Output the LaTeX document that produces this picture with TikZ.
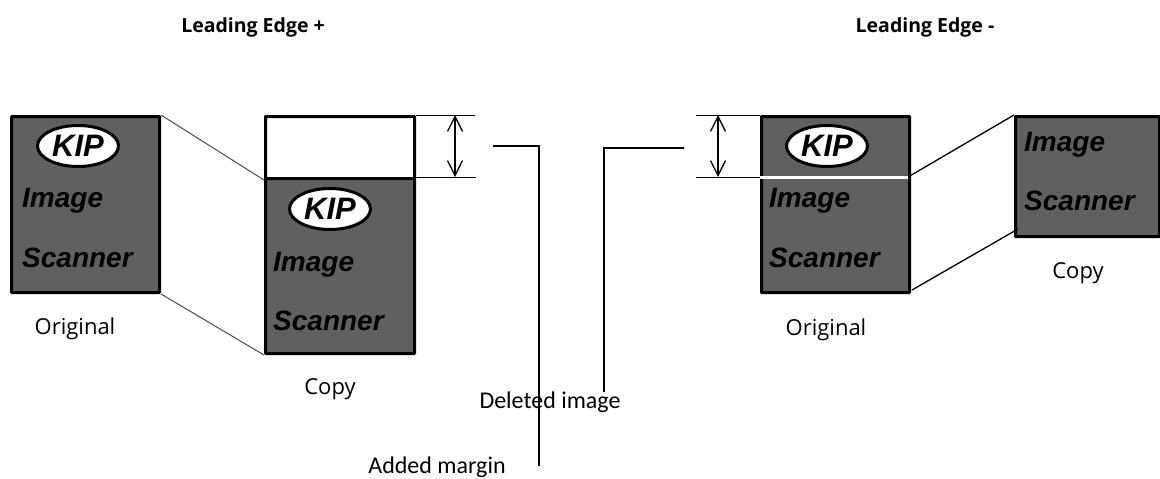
\documentclass[tikz,border=0pt]{standalone}
\usepackage{fontspec}
\setmainfont{Open Sans}
\newfontfamily\logofont{Liberation Sans}
\newfontfamily\notefont{Carlito}
\usetikzlibrary{shapes.geometric, arrows.meta}
\definecolor{sheet}{HTML}{606060}
\tikzstyle{page} = [rectangle, draw=black, line width=3pt, fill=sheet, inner sep=0pt, anchor=north west, rounded corners=0.5pt]
\tikzstyle{blank} = [page, fill=white]
\tikzstyle{logo} = [ellipse, draw=black, line width=3pt, fill=white, minimum width=81pt, minimum height=41pt, inner sep=0pt, font=\logofont\bfseries\itshape\fontsize{31}{31}\selectfont]
\tikzstyle{word} = [anchor=west, inner sep=0pt, font=\logofont\bfseries\itshape\fontsize{28}{28}\selectfont]
\tikzstyle{caption} = [inner sep=0pt, font=\fontsize{22}{22}\selectfont]
\tikzstyle{heading} = [inner sep=0pt, font=\bfseries\fontsize{19.5}{20}\selectfont]
\tikzstyle{note} = [inner sep=0pt, font=\notefont\fontsize{24}{24}\selectfont]
\tikzstyle{line} = [draw, line width=1.3pt]
\tikzstyle{thinline} = [draw, line width=1pt]
\tikzstyle{arrow} = [line width=1.3pt, {Straight Barb[length=15pt,width=15pt]}-{Straight Barb[length=15pt,width=15pt]}]

\begin{document}
\begin{tikzpicture}[x=1pt,y=-1pt]
\useasboundingbox (0,0) rectangle (1160,479);

\node (head1) [heading] at (253,27) {Leading Edge +};
\node (head2) [heading] at (925,27) {Leading Edge -};

%left side
\node (orig1) [page, minimum width=148pt, minimum height=176pt] at (10,115) {};
\node (logo1) [logo] at (78,146) {KIP};
\node (img1) [word] at (22,201) {Image};
\node (scan1) [word] at (22,258) {Scanner};
\node (cap1) [caption] at (75,329) {Original};

\node (add1) [blank, minimum width=149pt, minimum height=62pt] at (264,115) {};
\node (copy1) [page, minimum width=149pt, minimum height=175pt] at (264,177) {};
\node (logo2) [logo] at (330,209) {KIP};
\node (img2) [word] at (273,265) {Image};
\node (scan2) [word] at (273,321) {Scanner};
\node (cap2) [caption] at (330,389) {Copy};

%right side
\node (orig2) [page, minimum width=148pt, minimum height=176pt] at (760,115) {};
\node (logo3) [logo] at (827,146) {KIP};
\node (img3) [word] at (769,201) {Image};
\node (scan3) [word] at (769,258) {Scanner};
\node (cap3) [caption] at (826,330) {Original};

\node (copy2) [page, minimum width=144pt, minimum height=120pt] at (1014,115) {};
\node (img4) [word] at (1024,145) {Image};
\node (scan4) [word] at (1024,201) {Scanner};
\node (cap4) [caption] at (1078,273) {Copy};

\node (del) [note] at (550,402) {Deleted image};
\node (addm) [note] at (437,467) {Added margin};

\coordinate (ta) at (475,115);
\coordinate (tb) at (476,177);
\coordinate (ma) at (455,115);
\coordinate (mb) at (455,177);
\coordinate (ua) at (696,115);
\coordinate (ub) at (696,177);
\coordinate (na) at (718,115);
\coordinate (nb) at (718,177);
\coordinate (cutl) at (760,177);
\coordinate (cutr) at (908,177);
\coordinate (lowl) at (912,290);
\coordinate (lowr) at (1018,229);
\coordinate (la) at (493,146);
\coordinate (lb) at (539,146);
\coordinate (lc) at (539,466);
\coordinate (ra) at (684,148);
\coordinate (rb) at (604,148);
\coordinate (rc) at (604,392);

\draw [thinline, draw=black!70] (orig1.north east) -- (add1.south west);
\draw [thinline, draw=black!70] (orig1.south east) -- (copy1.south west);
\draw [thinline] (add1.north east) -- (ta);
\draw [thinline] (copy1.north east) -- (tb);
\draw [arrow] (ma) -- (mb);

\draw [line width=3pt, draw=white] (cutl) -- (cutr);
\draw [thinline] (ua) -- (orig2.north west);
\draw [thinline] (ub) -- (cutl);
\draw [arrow] (na) -- (nb);
\draw [line] (cutr) -- (copy2.north west);
\draw [line] (lowl) -- (lowr);

\draw [line] (la) -- (lb) -- (lc);
\draw [line] (ra) -- (rb) -- (rc);
\end{tikzpicture}
\end{document}
